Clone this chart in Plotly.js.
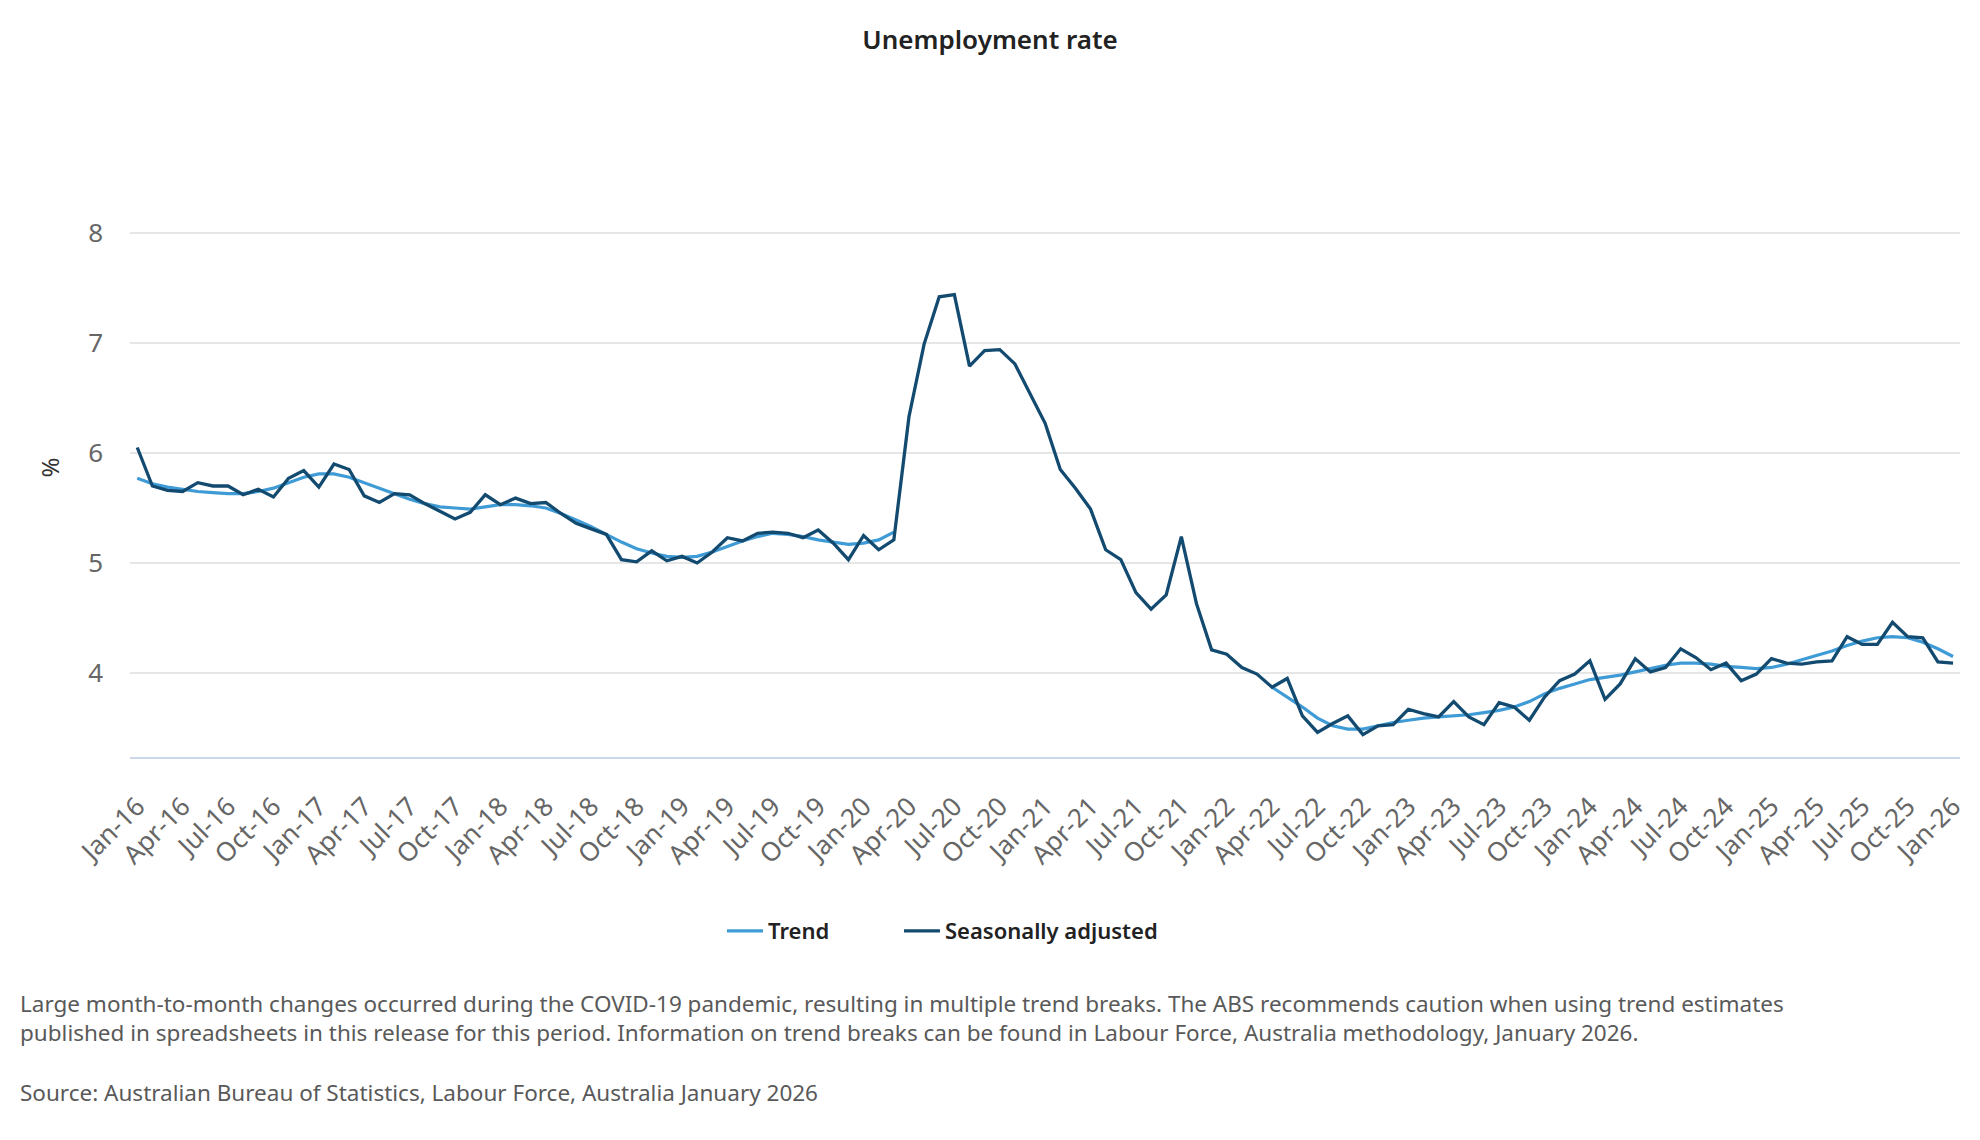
<!DOCTYPE html>
<html>
<head>
<meta charset="utf-8">
<script src="https://cdn.plot.ly/plotly-3.0.1.min.js"></script>
<style>
  body { margin: 0; background: #fff; }
  #chart { width: 1980px; height: 1140px; }
</style>
</head>
<body>
<div id="chart"></div>
<script>
const monthNames = ['Jan', 'Feb', 'Mar', 'Apr', 'May', 'Jun', 'Jul', 'Aug', 'Sep', 'Oct', 'Nov', 'Dec'];
const firstYear = 16;
const monthCount = 121; // Jan-16 .. Jan-26

// Seasonally adjusted, one row per year
const seasonallyAdjusted = [
    6.05, 5.70, 5.66, 5.65, 5.73, 5.70, 5.70, 5.62, 5.67, 5.60, 5.77, 5.84,
    5.69, 5.90, 5.85, 5.61, 5.55, 5.63, 5.62, 5.54, 5.47, 5.40, 5.46, 5.62,
    5.53, 5.59, 5.54, 5.55, 5.45, 5.36, 5.31, 5.26, 5.03, 5.01, 5.11, 5.02,
    5.06, 5.00, 5.10, 5.23, 5.20, 5.27, 5.28, 5.27, 5.23, 5.30, 5.18, 5.03,
    5.25, 5.12, 5.21, 6.33, 6.99, 7.42, 7.44, 6.79, 6.93, 6.94, 6.81, 6.54,
    6.27, 5.85, 5.68, 5.49, 5.12, 5.03, 4.73, 4.58, 4.71, 5.24, 4.63, 4.21,
    4.17, 4.05, 3.99, 3.87, 3.95, 3.61, 3.46, 3.54, 3.61, 3.44, 3.52, 3.53,
    3.67, 3.63, 3.60, 3.74, 3.60, 3.53, 3.73, 3.69, 3.57, 3.78, 3.93, 3.99,
    4.11, 3.76, 3.90, 4.13, 4.01, 4.05, 4.22, 4.14, 4.03, 4.09, 3.93, 3.99,
    4.13, 4.09, 4.08, 4.10, 4.11, 4.33, 4.26, 4.26, 4.46, 4.33, 4.32, 4.10,
    4.09
];

// Trend, with no values for the COVID-19 trend break period
const trend = [
    5.77, 5.72, 5.69, 5.67, 5.65, 5.64, 5.63, 5.63, 5.65, 5.68, 5.73, 5.78,
    5.81, 5.81, 5.78, 5.73, 5.68, 5.63, 5.58, 5.54, 5.51, 5.50, 5.49, 5.51,
    5.53, 5.53, 5.52, 5.50, 5.45, 5.39, 5.33, 5.26, 5.19, 5.13, 5.09, 5.06,
    5.05, 5.06, 5.10, 5.15, 5.20, 5.24, 5.27, 5.26, 5.24, 5.21, 5.19, 5.17,
    5.18, 5.21, 5.28, null, null, null, null, null, null, null, null, null,
    null, null, null, null, null, null, null, null, null, null, null, null,
    null, null, null, 3.87, 3.78, 3.69, 3.59, 3.52, 3.49, 3.49, 3.52, 3.55,
    3.57, 3.59, 3.60, 3.61, 3.62, 3.64, 3.66, 3.69, 3.74, 3.81, 3.86, 3.90,
    3.94, 3.96, 3.98, 4.01, 4.04, 4.07, 4.09, 4.09, 4.08, 4.06, 4.05, 4.04,
    4.05, 4.08, 4.12, 4.16, 4.20, 4.25, 4.29, 4.32, 4.33, 4.32, 4.28, 4.22,
    4.15
];

const footnote = 'Large month-to-month changes occurred during the COVID-19 pandemic, resulting in multiple trend breaks. The ABS recommends caution when using trend estimates<br>' +
    'published in spreadsheets in this release for this period. Information on trend breaks can be found in Labour Force, Australia methodology, January 2026.';
const source = 'Source: Australian Bureau of Statistics, Labour Force, Australia January 2026';

const xIndex = [];
const monthLabels = [];
for (let i = 0; i < monthCount; i++) {
    xIndex.push(i);
    monthLabels.push(monthNames[i % 12] + '-' + (firstYear + Math.floor(i / 12)));
}

// Quarterly ticks
const tickvals = [];
const ticktext = [];
for (let i = 0; i < monthCount; i += 3) {
    tickvals.push(i);
    ticktext.push(monthLabels[i]);
}

const FONT = '"Noto Sans", "Open Sans", sans-serif';
const legendFont = { size: 22, weight: 600, color: '#222' };

const chart_data = [
    {
        x: xIndex,
        y: trend,
        text: monthLabels,
        type: 'scatter',
        mode: 'lines',
        name: 'Trend',
        legend: 'legend',
        connectgaps: false,
        line: { color: '#3f9bd5', width: 3.2 },
        hovertemplate: '%{text}: %{y}<extra>Trend</extra>'
    },
    {
        x: xIndex,
        y: seasonallyAdjusted,
        text: monthLabels,
        type: 'scatter',
        mode: 'lines',
        name: 'Seasonally adjusted',
        legend: 'legend2',
        line: { color: '#134a70', width: 3.3 },
        hovertemplate: '%{text}: %{y}<extra>Seasonally adjusted</extra>'
    }
];

const layout = {
    width: 1980,
    height: 1140,
    paper_bgcolor: '#fff',
    plot_bgcolor: '#fff',
    font: { family: FONT, color: '#333' },
    title: {
        text: 'Unemployment rate',
        x: 0.5,
        xref: 'container',
        y: 0.965,
        yref: 'container',
        yanchor: 'middle',
        font: { size: 26, weight: 600, color: '#222' }
    },
    margin: { t: 178, l: 130, r: 20, b: 383 },
    showlegend: true,
    // one legend per series so the gap between entries can match
    legend: {
        orientation: 'h',
        x: 0.3235,
        xanchor: 'left',
        y: -0.3007,
        yanchor: 'middle',
        font: legendFont,
        itemwidth: 36
    },
    legend2: {
        orientation: 'h',
        x: 0.4202,
        xanchor: 'left',
        y: -0.3007,
        yanchor: 'middle',
        font: legendFont,
        itemwidth: 36
    },
    xaxis: {
        range: [-0.48, 120.46],
        tickmode: 'array',
        tickvals: tickvals,
        ticktext: ticktext,
        tickangle: -45,
        ticks: '',
        ticklabelstandoff: 22,
        tickfont: { size: 26, color: '#666' },
        showgrid: false,
        zeroline: false,
        showline: true,
        linecolor: '#ccd6eb',
        linewidth: 1.5
    },
    yaxis: {
        range: [3.236, 8.5],
        tickvals: [4, 5, 6, 7, 8],
        ticks: '',
        ticklabelstandoff: 26,
        tickfont: { size: 26, color: '#666' },
        showgrid: true,
        gridcolor: '#e6e6e6',
        gridwidth: 1.5,
        zeroline: false,
        showline: false,
        title: { text: '%', standoff: 21, font: { size: 24, color: '#333' } }
    },
    annotations: [
        {
            text: footnote,
            xref: 'paper',
            yref: 'paper',
            x: -0.0612,
            xanchor: 'left',
            y: -0.45,
            yanchor: 'middle',
            align: 'left',
            showarrow: false,
            font: { size: 22.5, color: '#595959' }
        },
        {
            text: source,
            xref: 'paper',
            yref: 'paper',
            x: -0.0612,
            xanchor: 'left',
            y: -0.579,
            yanchor: 'middle',
            align: 'left',
            showarrow: false,
            font: { size: 22.5, color: '#595959' }
        }
    ]
};

Plotly.newPlot('chart', chart_data, layout, { displayModeBar: false, responsive: false });
</script>
</body>
</html>
